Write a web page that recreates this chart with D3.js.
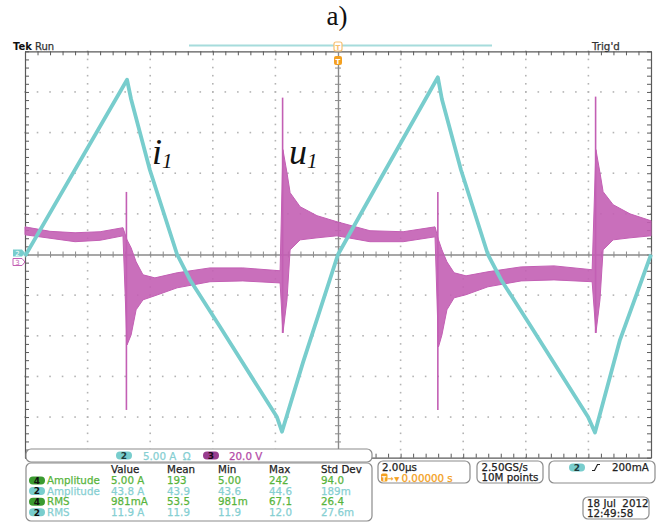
<!DOCTYPE html>
<html>
<head>
<meta charset="utf-8">
<script src="https://cdnjs.cloudflare.com/ajax/libs/d3/7.8.5/d3.min.js"></script>
<style>
	body { margin: 0; background: #fff; }
	svg { display: block; }
	.tek { font-family: "DejaVu Sans", sans-serif; font-size: 10.3px; white-space: pre; }
</style>
</head>
<body>
<div class="scope"></div>
<script>
// ---- data (time in us, i1 in A, u1 in V) ----
var iTime = [-10.0, -6.74, -6.61, -6.01, -5.14, -4.73, -3.77, -1.95, -1.79, -1.12, 0.0, 1.34,
			 3.19, 3.32, 3.93, 4.79, 5.21, 6.17, 7.99, 8.21, 9.01, 10.0];
var iAmps = [-0.2, 21.5, 19.1, 10.4, 0.0, -3.1, -8.9, -20.0, -21.8, -13.3, 0.0, 9.2,
			 21.8, 19.1, 10.4, 0.0, -3.1, -8.9, -20.0, -21.9, -10.5, 0.0];

// u1 is a noisy band: upper and lower edge of the trace
var uTime  = [-10.0, -9.2, -8.4, -7.6, -6.87, -6.74, -6.61, -6.45, -6.23, -5.85, -5.14, -4.09, -3.04, -1.85,
			  -1.76, -1.63, -1.53, -1.21, -0.67, -0.03, 1.02, 2.08, 3.10, 3.21, 3.32, 3.48, 3.71, 4.09,
			  4.79, 5.85, 6.90, 8.12, 8.24, 8.37, 8.47, 8.79, 9.33, 10.0];
var uUpper = [13.6, 11.4, 10.7, 11.2, 13.2, 7.2, 3.3, -3.6, -10.0, -11.5, -9.0, -6.6, -6.6, -8.0,
			  51.6, 40.2, 30.4, 23.5, 19.1, 16.1, 11.7, 11.2, 13.6, 7.2, 2.3, -3.6, -9.0, -10.5,
			  -8.5, -6.1, -5.6, -7.5, 51.6, 40.2, 30.9, 24.5, 20.0, 16.6];
var uLower = [9.7, 8.0, 6.3, 7.0, 9.2, -44.5, -39.6, -27.2, -22.3, -20.3, -16.4, -13.4, -13.0, -14.0,
			  -38.6, -22.3, 2.3, 7.2, 8.2, 9.2, 6.3, 6.3, 8.7, -45.5, -39.6, -27.2, -21.3, -19.8,
			  -15.9, -13.0, -12.5, -13.4, -38.6, -22.3, 2.3, 7.2, 8.2, 9.2];

// switching spikes
var spikeTime = [-6.76, -1.77, 3.19, 8.23];
var spikeMax  = [30.8, 77.2, 30.8, 77.7];
var spikeMin  = [-76.5, -38.6, -76.5, -38.6];

// measurement table
var measHeaders  = ["Value", "Mean", "Min", "Max", "Std Dev"];
var measChannels = ["4", "2", "4", "2"];
var measNames    = ["Amplitude", "Amplitude", "RMS", "RMS"];
var measValues   = [["5.00 A", "193", "5.00", "242", "94.0"],
					["43.8 A", "43.9", "43.6", "44.6", "189m"],
					["981mA", "53.5", "981m", "67.1", "26.4"],
					["11.9 A", "11.9", "11.9", "12.0", "27.6m"]];

var CYAN = "#78cdcd", MAGENTA = "#c35fb4", GREEN = "#58b43c", CYANTXT = "#86cfd2", ORANGE = "#f4a020";

var plot = {left: 25, right: 651, top: 51.3, bottom: 457.7};

function makeStage(w, h) {
	var stage = d3.select(".scope")
				  .append("svg")
				  .attr("width", w)
				  .attr("height", h);
	return stage;
}

var stage = makeStage(664, 522);

var x  = d3.scaleLinear().domain([-10, 10]).range([plot.left, plot.right]);     // 2.00us/div
var yI = d3.scaleLinear().domain([-25, 25]).range([plot.bottom, plot.top]);     // 5.00 A/div
var yU = d3.scaleLinear().domain([-100, 100]).range([plot.bottom, plot.top]);   // 20.0 V/div

var majorT = d3.range(-10, 10.001, 2);
var minorT = d3.range(-10, 10.001, 0.4);
var majorI = d3.range(-25, 25.001, 5);
var minorI = d3.range(-25, 25.001, 1);

// ---- graticule ----
function drawGrid(stage) {
	var g = stage.append("g");
	majorT.filter(function(t) { return Math.abs(t) > 0.01 && Math.abs(t) < 9.99; }).forEach(function(t) {
		minorI.forEach(function(v) {
			g.append("rect").attr("x", x(t) - 0.8).attr("y", yI(v) - 0.8)
			 .attr("width", 1.6).attr("height", 1.6).attr("fill", "#b4b4b4");
		});
	});
	majorI.filter(function(v) { return Math.abs(v) > 0.01 && Math.abs(v) < 24.99; }).forEach(function(v) {
		minorT.forEach(function(t) {
			g.append("rect").attr("x", x(t) - 0.8).attr("y", yI(v) - 0.8)
			 .attr("width", 1.6).attr("height", 1.6).attr("fill", "#b4b4b4");
		});
	});
}

function styleAxis(sel, color) {
	sel.selectAll("path").attr("stroke", color).attr("stroke-width", 1.2);
	sel.selectAll("line").attr("stroke", color).attr("stroke-width", 1);
}

function drawAxes(stage) {
	var none = function() { return ""; };
	// frame with inward ticks
	styleAxis(stage.append("g").attr("transform", "translate(0," + plot.top + ")")
		.call(d3.axisBottom(x).tickValues(minorT).tickSize(4).tickSizeOuter(0).tickFormat(none)), "#5a5a5a");
	styleAxis(stage.append("g").attr("transform", "translate(0," + plot.bottom + ")")
		.call(d3.axisTop(x).tickValues(minorT).tickSize(4).tickSizeOuter(0).tickFormat(none)), "#5a5a5a");
	styleAxis(stage.append("g").attr("transform", "translate(" + plot.left + ",0)")
		.call(d3.axisRight(yI).tickValues(minorI).tickSize(4).tickSizeOuter(0).tickFormat(none)), "#5a5a5a");
	styleAxis(stage.append("g").attr("transform", "translate(" + plot.right + ",0)")
		.call(d3.axisLeft(yI).tickValues(minorI).tickSize(4).tickSizeOuter(0).tickFormat(none)), "#5a5a5a");
	// centre cross with ticks on both sides
	[d3.axisBottom(x), d3.axisTop(x)].forEach(function(ax) {
		styleAxis(stage.append("g").attr("transform", "translate(0," + yI(0) + ")")
			.call(ax.tickValues(minorT).tickSize(3).tickSizeOuter(0).tickFormat(none)), "#8a8a8a");
	});
	[d3.axisRight(yI), d3.axisLeft(yI)].forEach(function(ax) {
		styleAxis(stage.append("g").attr("transform", "translate(" + x(0) + ",0)")
			.call(ax.tickValues(minorI).tickSize(3).tickSizeOuter(0).tickFormat(none)), "#8a8a8a");
	});
}

// ---- traces ----
function drawVoltage(stage) {
	var band = d3.area()
				 .x(function(d, k) { return x(uTime[k]); })
				 .y0(function(d, k) { return yU(uLower[k]); })
				 .y1(function(d, k) { return yU(uUpper[k]); });
	stage.append("path")
		 .attr("d", band(uTime))
		 .attr("fill", MAGENTA)
		 .attr("fill-opacity", 0.9)
		 .attr("stroke", MAGENTA)
		 .attr("stroke-width", 1);
	spikeTime.forEach(function(t, k) {
		stage.append("line")
			 .attr("x1", x(t)).attr("x2", x(t))
			 .attr("y1", yU(spikeMin[k])).attr("y2", yU(spikeMax[k]))
			 .attr("stroke", MAGENTA).attr("stroke-width", 1.6);
	});
}

function drawCurrent(stage) {
	var line = d3.line()
				 .x(function(d, k) { return x(iTime[k]); })
				 .y(function(d, k) { return yI(iAmps[k]); });
	stage.append("path")
		 .attr("d", line(iTime))
		 .attr("fill", "none")
		 .attr("stroke", CYAN)
		 .attr("stroke-width", 3.8)
		 .attr("stroke-linejoin", "round");
}

function drawLabel(stage, px, py, main, sub) {
	var t = stage.append("text")
				 .attr("x", px).attr("y", py)
				 .style("font-family", "'Liberation Serif', serif")
				 .style("font-style", "italic")
				 .style("font-size", "36px")
				 .attr("fill", "#111");
	t.append("tspan").text(main);
	t.append("tspan").attr("dy", 4).style("font-size", "21px").text(sub);
}

// ---- screen furniture ----
function pill(stage, px, py, w, fill, txt, txtColor) {
	stage.append("rect").attr("x", px).attr("y", py).attr("width", w).attr("height", 8)
		 .attr("rx", 4).attr("fill", fill);
	stage.append("text").attr("class", "tek").attr("x", px + w / 2).attr("y", py + 7.3)
		 .attr("text-anchor", "middle").style("font-size", "9px").style("font-weight", "bold")
		 .attr("fill", txtColor).text(txt);
}

function box(stage, px, py, w, h) {
	stage.append("rect").attr("x", px).attr("y", py).attr("width", w).attr("height", h)
		 .attr("rx", 5).attr("fill", "#fff").attr("stroke", "#8c8c8c").attr("stroke-width", 1.2);
}

function tekText(stage, px, py, txt, color) {
	color = color || "#222";
	return stage.append("text").attr("class", "tek").attr("x", px).attr("y", py)
				.attr("fill", color).attr("stroke", color).attr("stroke-width", 0.25)
				.text(txt);
}

function drawHeader(stage) {
	stage.append("text").attr("x", 337).attr("y", 25).attr("text-anchor", "middle")
		 .style("font-family", "'Liberation Serif', serif").style("font-size", "27px")
		 .attr("fill", "#111").text("a)");
	stage.append("text").attr("x", 13).attr("y", 50).style("font-family", "'DejaVu Sans', sans-serif")
		 .style("font-size", "10px").style("font-weight", "bold").attr("fill", "#111").text("Tek");
	tekText(stage, 35, 50, "Run", "#333").style("font-size", "10px");
	tekText(stage, 592, 49.5, "Trig'd", "#333").style("font-size", "10.3px");
	// record view bar
	stage.append("line").attr("x1", 189).attr("x2", 492).attr("y1", 45.5).attr("y2", 45.5)
		 .attr("stroke", "#a6dcdc").attr("stroke-width", 2);
	// trigger position markers
	var tx = x(0);
	stage.append("rect").attr("x", tx - 4).attr("y", 42).attr("width", 8).attr("height", 9)
		 .attr("rx", 2).attr("fill", "#fff").attr("stroke", "#f7c070").attr("stroke-width", 1.2);
	stage.append("text").attr("x", tx).attr("y", 49.5).attr("text-anchor", "middle")
		 .style("font-family", "'DejaVu Sans', sans-serif").style("font-size", "7px")
		 .style("font-weight", "bold").attr("fill", "#f7c070").text("T");
	stage.append("rect").attr("x", tx - 4).attr("y", 56).attr("width", 8).attr("height", 9)
		 .attr("rx", 2).attr("fill", ORANGE);
	stage.append("text").attr("x", tx).attr("y", 63.5).attr("text-anchor", "middle")
		 .style("font-family", "'DejaVu Sans', sans-serif").style("font-size", "7px")
		 .style("font-weight", "bold").attr("fill", "#fff").text("T");
	// channel ground markers
	var y0 = yI(0);
	stage.append("path").attr("d", "M13," + (y0 - 5) + "h9l3,3.5l-3,3.5h-9z").attr("fill", CYAN);
	stage.append("text").attr("x", 17.5).attr("y", y0 + 1).attr("text-anchor", "middle")
		 .style("font-family", "'DejaVu Sans', sans-serif").style("font-size", "7px").attr("fill", "#fff").text("2");
	stage.append("path").attr("d", "M13," + (y0 + 4) + "h9l3,3.5l-3,3.5h-9z")
		 .attr("fill", "#fff").attr("stroke", MAGENTA).attr("stroke-width", 1);
	stage.append("text").attr("x", 17.5).attr("y", y0 + 10).attr("text-anchor", "middle")
		 .style("font-family", "'DejaVu Sans', sans-serif").style("font-size", "7px").attr("fill", MAGENTA).text("3");
}

function drawReadouts(stage) {
	// channel scale bar
	box(stage, 26, 449, 346, 13);
	pill(stage, 116, 451.5, 16, CYAN, "2", "#1d3c3c");
	tekText(stage, 143, 459.5, "5.00 A  \u03A9", CYANTXT);
	pill(stage, 203, 451.5, 16, "#983c8e", "3", "#1a0a18");
	tekText(stage, 229, 459.5, "20.0 V", "#b44aa8");

	// measurement table
	box(stage, 26, 463, 346, 58);
	var colX = [111, 167, 218, 269, 321];
	var rowY = [484, 494.6, 505.2, 515.8];
	measHeaders.forEach(function(h, c) { tekText(stage, colX[c], 473, h, "#222"); });
	measNames.forEach(function(name, r) {
		var green = measChannels[r] == "4";
		var col = green ? GREEN : CYANTXT;
		pill(stage, 29, rowY[r] - 7.5, 16, green ? "#3a9a30" : CYAN, measChannels[r], "#111");
		tekText(stage, 47, rowY[r], name, col);
		measValues[r].forEach(function(v, c) { tekText(stage, colX[c], rowY[r], v, col); });
	});

	// timebase
	box(stage, 378, 461, 92, 22);
	tekText(stage, 382, 470.5, "2.00\u00B5s", "#222");
	stage.append("rect").attr("x", 381).attr("y", 473.5).attr("width", 6.5).attr("height", 8)
		 .attr("rx", 1.5).attr("fill", ORANGE);
	stage.append("text").attr("x", 384.2).attr("y", 480.5).attr("text-anchor", "middle")
		 .style("font-family", "'DejaVu Sans', sans-serif").style("font-size", "6.5px")
		 .style("font-weight", "bold").attr("fill", "#fff").text("T");
	tekText(stage, 387.5, 481, "\u2192", ORANGE).style("font-size", "7px");
	tekText(stage, 394.5, 481, "\u25BC", ORANGE).style("font-size", "6px");
	tekText(stage, 401.5, 481.5, "0.00000 s", ORANGE);

	// sample rate
	box(stage, 477, 461, 66, 22);
	tekText(stage, 481.5, 470.5, "2.50GS/s", "#222");
	tekText(stage, 481.5, 481, "10M points", "#222");

	// trigger
	box(stage, 549, 461, 106, 22);
	pill(stage, 569, 463.5, 16, CYAN, "2", "#1d3c3c");
	stage.append("path").attr("d", "M592,470.5h2.5l3,-6h2.5").attr("fill", "none")
		 .attr("stroke", "#222").attr("stroke-width", 1.2);
	tekText(stage, 612, 470.5, "200mA", "#222");

	// date
	box(stage, 583, 497, 66, 22);
	tekText(stage, 587, 506.5, "18 Jul  2012", "#222");
	tekText(stage, 587, 517, "12:49:58", "#222");
}

drawGrid(stage);
drawAxes(stage);
drawVoltage(stage);
drawCurrent(stage);
drawLabel(stage, 152, 164, "i", "1");
drawLabel(stage, 289, 164, "u", "1");
drawHeader(stage);
drawReadouts(stage);
</script>
</body>
</html>
